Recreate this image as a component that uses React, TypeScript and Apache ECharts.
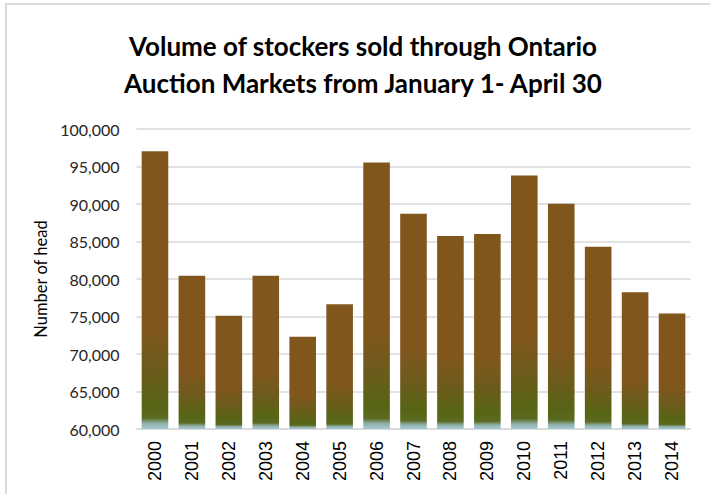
import React, { useEffect, useRef } from "react";
import * as echarts from "echarts";

const years = ["2000","2001","2002","2003","2004","2005","2006","2007","2008","2009","2010","2011","2012","2013","2014"];
const volumes = [97050, 80450, 75100, 80450, 72300, 76650, 95550, 88700, 85750, 86000, 93800, 90050, 84300, 78250, 75400];
const titleLines = ["Volume of stockers sold through Ontario", "Auction Markets from January 1- April 30"];
const yAxisName = "Number of head";

export default function App() {
  const ref = useRef<HTMLDivElement>(null);
  useEffect(() => {
    document.body.style.margin = "0";
    const chart = echarts.init(ref.current!, null, { renderer: "svg" });
    const barColor = new echarts.graphic.LinearGradient(0, 0, 0, 1, [
      { offset: 0, color: "#80561D" },
      { offset: 0.64, color: "#80561D" },
      { offset: 0.8, color: "#6A5C1B" },
      { offset: 0.92, color: "#566514" },
      { offset: 0.96, color: "#5B6A22" },
      { offset: 0.98, color: "#8FAFA8" },
      { offset: 1, color: "#A8CAD8" },
    ]);
    chart.setOption({
      animation: false,
      backgroundColor: "#ffffff",
      title: {
        text: titleLines.join("\n"),
        left: 358,
        top: 22,
        textAlign: "center",
        textStyle: {
          fontFamily: "Lato",
          fontWeight: "bold",
          fontSize: 26,
          lineHeight: 37,
          color: "#000000",
        },
      },
      graphic: [
        {
          type: "rect",
          shape: { x: 6, y: 4, width: 720, height: 500 },
          style: { fill: "none", stroke: "#d9d9d9", lineWidth: 2 },
          silent: true,
          z: -1,
        },
      ],
      grid: { left: 136.5, right: 19.5, top: 129, bottom: 65 },
      xAxis: {
        type: "category",
        data: years,
        axisLine: { lineStyle: { color: "#d9d9d9", width: 1.5 } },
        axisTick: { show: false },
        axisLabel: {
          rotate: 90,
          margin: 12,
          fontFamily: "Liberation Sans",
          fontSize: 18,
          color: "#000000",
        },
      },
      yAxis: {
        type: "value",
        min: 60000,
        max: 100000,
        interval: 5000,
        name: yAxisName,
        nameLocation: "middle",
        nameGap: 82,
        nameRotate: 90,
        nameTextStyle: { fontFamily: "Lato", fontSize: 16.5, color: "#000000" },
        axisLine: { show: false },
        axisTick: { show: false },
        splitLine: { lineStyle: { color: "#d9d9d9", width: 1.5 } },
        axisLabel: {
          margin: 17,
          fontFamily: "Lato",
          fontSize: 16,
          color: "#262626",
          formatter: (v: number) => v.toLocaleString("en-US"),
        },
      },
      series: [
        {
          type: "bar",
          data: volumes,
          barWidth: "72%",
          itemStyle: { color: barColor },
        },
      ],
    });
    return () => chart.dispose();
  }, []);
  return <div ref={ref} style={{ position: "fixed", left: 0, top: 0, width: 710, height: 494 }} />;
}
